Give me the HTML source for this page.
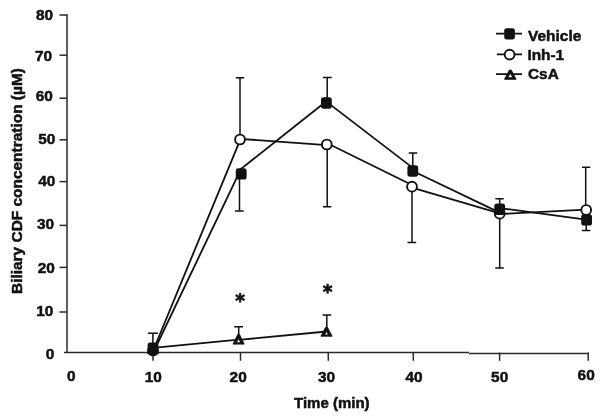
<!DOCTYPE html><html><head><meta charset="utf-8"><title>Biliary CDF concentration</title>
<style>html,body{margin:0;padding:0;background:#fff}svg{display:block}text{font-family:"Liberation Sans",Arial,sans-serif;font-weight:bold;fill:#111;stroke:#111;stroke-width:0.5px}</style></head><body>
<svg width="604" height="419" viewBox="0 0 604 419">
<rect width="604" height="419" fill="#fff"/>
<g stroke="#2a2a2a" stroke-width="1.5" fill="none">
<path d="M67 14.3V353"/>
<path d="M64 352.6H469M469 353.4H588.9"/>
<path d="M59.5 15H67"/>
<path d="M59.5 55.2H67"/>
<path d="M59.5 98.2H67"/>
<path d="M59.5 139.8H67"/>
<path d="M59.5 181.6H67"/>
<path d="M59.5 225.4H67"/>
<path d="M59.5 267.4H67"/>
<path d="M59.5 312H67"/>
<path d="M153 352.5V360.8"/>
<path d="M240.5 352.5V360.8"/>
<path d="M328.3 352.5V360.8"/>
<path d="M413.3 352.5V360.8"/>
<path d="M499.6 352.5V360.8"/>
<path d="M588.2 352.5V360.8"/>
</g>
<text x="53.2" y="19.7" font-size="15.4" text-anchor="end">80</text>
<text x="52.0" y="61.3" font-size="15.4" text-anchor="end">70</text>
<text x="52.8" y="100.7" font-size="15.4" text-anchor="end">60</text>
<text x="55.4" y="144.1" font-size="15.4" text-anchor="end">50</text>
<text x="55.4" y="186.1" font-size="15.4" text-anchor="end">40</text>
<text x="54.0" y="228.9" font-size="15.4" text-anchor="end">30</text>
<text x="54.8" y="273.3" font-size="15.4" text-anchor="end">20</text>
<text x="53.4" y="316.3" font-size="15.4" text-anchor="end">10</text>
<text x="54.4" y="359.3" font-size="15.4" text-anchor="end">0</text>
<text x="71.35" y="380.5" font-size="15.4" text-anchor="middle">0</text>
<text x="153.35" y="381.5" font-size="15.4" text-anchor="middle">10</text>
<text x="238.15" y="381.5" font-size="15.4" text-anchor="middle">20</text>
<text x="326.55" y="381.5" font-size="15.4" text-anchor="middle">30</text>
<text x="414.05" y="381.5" font-size="15.4" text-anchor="middle">40</text>
<text x="499.65" y="381.7" font-size="15.4" text-anchor="middle">50</text>
<text x="586.15" y="380.4" font-size="15.4" text-anchor="middle">60</text>
<text x="294" y="407.7" font-size="15">Time (min)</text>
<text transform="translate(22,294) rotate(-90)" font-size="15.45">Biliary CDF concentration (µM)</text>
<g stroke="#111" stroke-width="1.5" fill="none">
<path d="M152.9 346V333.3M147.9 333.3H157.9"/>
<path d="M240 139.5V77.8M235.8 77.8H244.2"/>
<path d="M239.5 174V211M235 211H243.7"/>
<path d="M327.2 103V77.5M323 77.5H331.7"/>
<path d="M327.2 144.5V206.7M323 206.7H331.3"/>
<path d="M412.8 170V153M408.7 153H417.2"/>
<path d="M412 186.7V242.5M407.5 242.5H416.2"/>
<path d="M499.7 209V198.8M495.3 198.8H503.7"/>
<path d="M499.7 213.7V268M495.3 268H503.8"/>
<path d="M585.7 209.2V167.3M582 167.3H590.3"/>
<path d="M586.2 219.2V230.5M581.8 230.5H590.3"/>
<path d="M238.7 339V326.7M234.2 326.7H243"/>
<path d="M326.8 332V315M322.5 315H331.2"/>
</g>
<g stroke="#111" stroke-width="1.8" fill="none" stroke-linecap="round">
<path d="M153.5 352L241 168.8"/>
<path d="M241 168.9L326.4 101.2"/>
<path d="M326.4 101.6L412.8 167.9"/>
<path d="M412.8 171L499.7 212.6"/>
<path d="M499.7 208.1L586.2 219.7"/>
<path d="M153 351L240 140.3"/>
<path d="M240 138.8L326.8 145.2"/>
<path d="M326.8 143L412 185"/>
<path d="M412 187.7L499.7 213.3"/>
<path d="M499.7 214L585.7 209.7"/>
<path d="M153 347.8L238.7 339.6"/>
<path d="M238.7 339.9L326.8 331.5"/>
</g>
<path d="M152.1 343.9H153.9L158.6 353.6H147.4Z" fill="#111" stroke="#111" stroke-width="0.9" stroke-linejoin="round"/><path d="M153 348.8L154.6 351.7H151.4Z" fill="#f4f4f4"/>
<path d="M237.7 334.59999999999997H239.5L244.2 344.1H233.0Z" fill="#111" stroke="#111" stroke-width="0.9" stroke-linejoin="round"/><path d="M238.6 339.5L240.2 342.2H237.0Z" fill="#f4f4f4"/>
<path d="M325.6 327.29999999999995H327.4L332.09999999999997 336.20000000000005H320.90000000000003Z" fill="#111" stroke="#111" stroke-width="0.9" stroke-linejoin="round"/><path d="M326.5 332.09999999999997L327.9 334.40000000000003H325.1Z" fill="#f4f4f4"/>
<circle cx="153" cy="350.5" r="4.9" fill="#111" stroke="#111" stroke-width="1.9"/>
<circle cx="240" cy="139.5" r="4.9" fill="#fff" stroke="#111" stroke-width="1.9"/>
<circle cx="326.8" cy="144.5" r="4.9" fill="#fff" stroke="#111" stroke-width="1.9"/>
<circle cx="412" cy="186.7" r="4.9" fill="#fff" stroke="#111" stroke-width="1.9"/>
<circle cx="499.7" cy="213.7" r="4.9" fill="#fff" stroke="#111" stroke-width="1.9"/>
<circle cx="586.2" cy="210" r="4.9" fill="#fff" stroke="#111" stroke-width="1.9"/>
<rect x="147.6" y="342.6" width="10.8" height="11.4" rx="2.6" fill="#111"/>
<rect x="235.79999999999998" y="168.20000000000002" width="10.8" height="11.4" rx="2.6" fill="#111"/>
<rect x="321.0" y="97.3" width="10.8" height="11.4" rx="2.6" fill="#111"/>
<rect x="407.40000000000003" y="165.3" width="10.8" height="11.4" rx="2.6" fill="#111"/>
<rect x="494.3" y="203.5" width="10.8" height="11.4" rx="2.6" fill="#111"/>
<rect x="581.2" y="214.20000000000002" width="10.8" height="11.4" rx="2.6" fill="#111"/>
<text x="240.15" y="307.4" font-size="18.6" text-anchor="middle" style="font-family:'DejaVu Sans',sans-serif;stroke-width:0.7px;stroke-linejoin:round">*</text>
<text x="327.65" y="297.75" font-size="18.6" text-anchor="middle" style="font-family:'DejaVu Sans',sans-serif;stroke-width:0.7px;stroke-linejoin:round">*</text>
<g stroke="#111" stroke-width="1.8"><path d="M496 33.6H522M496.8 54.4H522M496 74.1H522"/></g>
<rect x="504.2" y="28.2" width="10.7" height="11.2" rx="2.6" fill="#111"/>
<circle cx="509.6" cy="54.6" r="4.9" fill="#fff" stroke="#111" stroke-width="1.9"/>
<path d="M509.40000000000003 70.0H511.2L516.1 79.3H504.5Z" fill="#111" stroke="#111" stroke-width="0.9" stroke-linejoin="round"/><path d="M510.3 73.89999999999999L512.3 77.3H508.3Z" fill="#f4f4f4"/>
<text x="528.1" y="41" font-size="15.4" textLength="53.2" lengthAdjust="spacingAndGlyphs">Vehicle</text>
<text x="527.4" y="60" font-size="15.4">Inh-1</text>
<text x="528" y="78.7" font-size="15.4">CsA</text>
</svg></body></html>
